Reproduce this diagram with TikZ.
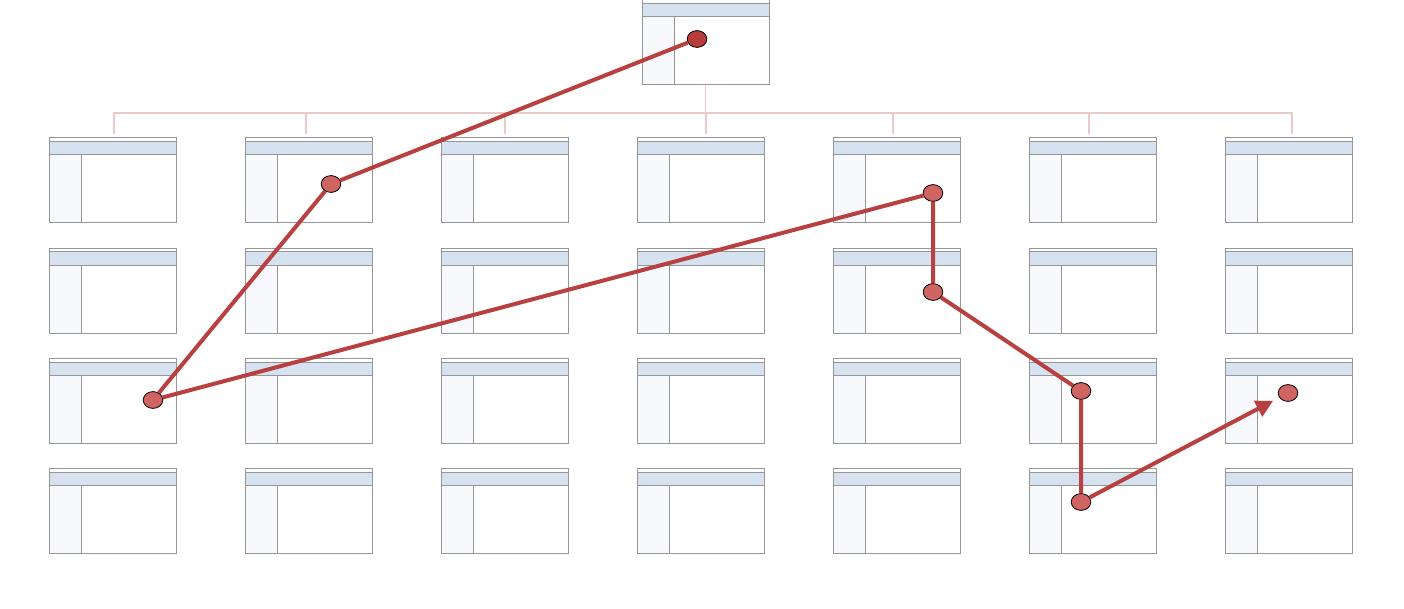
\documentclass[tikz,border=0pt]{standalone}
\usetikzlibrary{arrows.meta,shapes.geometric}
\definecolor{framegray}{HTML}{969696}
\definecolor{barblue}{HTML}{D6E2F0}
\definecolor{sideblue}{HTML}{F7F9FD}
\definecolor{treepink}{HTML}{E6CBC7}
\definecolor{hopred}{HTML}{B94040}
\definecolor{dotred}{HTML}{D06462}
\definecolor{dotdark}{HTML}{B83C3C}

% one window: name, x, y (top left corner)
\newcommand{\drawwin}[3]{%
  \node[win] (#1) at (#2,#3) {};
  \draw[bar] ([yshift=-1.8pt]#1.north west) rectangle ([yshift=-8.5pt]#1.north east);
  \draw[side] ([yshift=-8.5pt]#1.north west) rectangle ([xshift=16pt]#1.south west);
}

\begin{document}
\begin{tikzpicture}[x=0.5pt, y=-0.5pt,
  win/.style={draw=framegray, fill=white, line width=0.5pt, minimum width=63.5pt, minimum height=42.5pt, inner sep=0pt, outer sep=0pt, anchor=north west},
  bar/.style={fill=barblue, draw=framegray, line width=0.5pt},
  side/.style={fill=sideblue, draw=framegray, line width=0.5pt},
  tree/.style={draw=treepink, line width=0.6pt},
  hop/.style={draw=hopred, line width=2pt},
  dotr/.style={ellipse, draw=black, line width=0.4pt, fill=dotred, minimum width=9.8pt, minimum height=8.4pt, inner sep=0pt}]

\useasboundingbox (0,0) rectangle (1404,609);

% top window and grid
\drawwin{top}{642}{0}
\foreach \c [evaluate=\c as \xx using 49+196*\c] in {0,...,6}{
  \foreach \r [evaluate=\r as \yy using 138+110.3*\r] in {0,...,3}{
    \drawwin{w\r\c}{\xx}{\yy}
  }
}

% tree from top window to first row
\coordinate (hub) at ([yshift=-14pt]top.south);
\draw[tree] (top.south) -- (hub);
\foreach \c/\dx in {0/0.75, 1/-1.25, 2/0.25, 3/2.75, 4/-1.75, 5/-1.75, 6/1.75}
  \draw[tree] (hub) -| ([xshift=\dx pt, yshift=2pt]w0\c.north);

% hops
\node[dotr, fill=dotdark] (d0) at (697,39) {};
\node[dotr] (d1) at (331,184) {};
\node[dotr] (d2) at (153,400) {};
\node[dotr] (d3) at (933,193) {};
\node[dotr] (d4) at (933,292) {};
\node[dotr] (d5) at (1081,391) {};
\node[dotr] (d6) at (1081,502) {};
\node[dotr] (d7) at (1288,393) {};

\draw[hop] (d0) -- (d1) -- (d2) -- (d3) -- (d4) -- (d5) -- (d6);
\draw[hop, -{Triangle[length=8.5pt, width=8.5pt]}, shorten >=3.5pt] (d6) -- (d7);

\end{tikzpicture}
\end{document}
